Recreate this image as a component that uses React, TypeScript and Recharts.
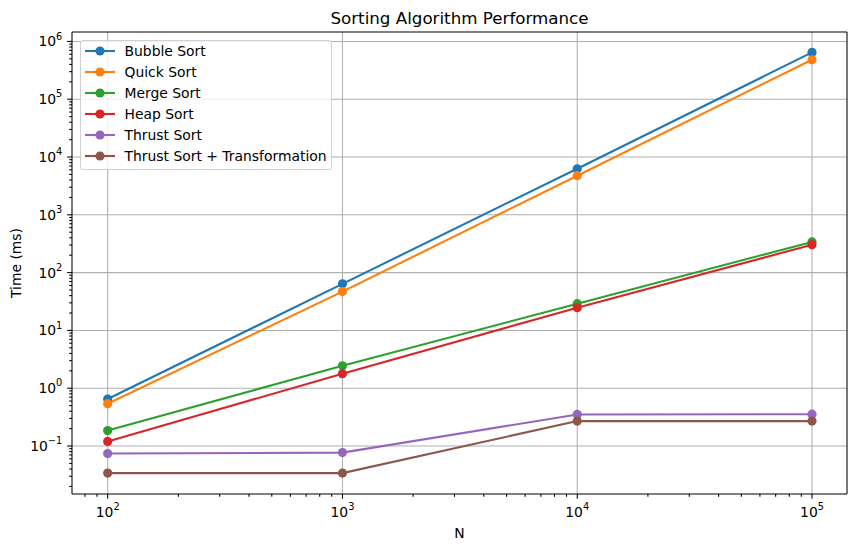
import React from "react";
import { LineChart, Line, XAxis, YAxis, CartesianGrid, ReferenceLine } from "recharts";

// ---- data ----
const nValues = [100, 1000, 10000, 100000];
const bubbleSort = [0.65, 64, 6270, 645000];
const quickSort = [0.54, 47, 4750, 482000];
const mergeSort = [0.185, 2.45, 29, 340];
const heapSort = [0.12, 1.78, 24.7, 304];
const thrustSort = [0.074, 0.077, 0.352, 0.355];
const thrustSortTransform = [0.034, 0.034, 0.27, 0.27];

const seriesNames = [
  "Bubble Sort",
  "Quick Sort",
  "Merge Sort",
  "Heap Sort",
  "Thrust Sort",
  "Thrust Sort + Transformation",
];
const seriesKeys = ["bubble", "quick", "merge", "heap", "thrust", "thrustT"];
const seriesColors = ["#1f77b4", "#ff7f0e", "#2ca02c", "#d62728", "#9467bd", "#8c564b"];
const seriesValues = [bubbleSort, quickSort, mergeSort, heapSort, thrustSort, thrustSortTransform];

const xMajorExps = [2, 3, 4, 5];
const yMajorExps = [-1, 0, 1, 2, 3, 4, 5, 6];

const titleText = "Sorting Algorithm Performance";
const xLabelText = "N";
const yLabelText = "Time (ms)";

// ---- layout ----
const W = 857;
const H = 552;
const LEFT = 72;
const RIGHT = 847;
const TOP = 32;
const BOTTOM = 494;
const FONT = "'DejaVu Sans', sans-serif";
const FS = 13.9;

const X_DOMAIN: [number, number] = [Math.pow(10, 1.848), Math.pow(10, 5.149)];
const Y_DOMAIN: [number, number] = [Math.pow(10, -1.83), Math.pow(10, 6.163)];

const data = nValues.map((n, i) => {
  const row: Record<string, number> = { n };
  seriesKeys.forEach((k, s) => {
    row[k] = seriesValues[s][i];
  });
  return row;
});

function logTicks(domain: [number, number]) {
  const out: number[] = [];
  const lo = Math.floor(Math.log10(domain[0]));
  const hi = Math.ceil(Math.log10(domain[1]));
  for (let k = lo; k <= hi; k++) {
    for (let m = 1; m <= 9; m++) {
      const v = Number(`${m}e${k}`);
      if (v >= domain[0] && v <= domain[1]) out.push(v);
    }
  }
  return out;
}
const xTicks = logTicks(X_DOMAIN);
const yTicks = logTicks(Y_DOMAIN);
const xMajors = xMajorExps.map((e) => Number(`1e${e}`));
const yMajors = yMajorExps.map((e) => Number(`1e${e}`));

function isMajor(v: number) {
  const l = Math.log10(v);
  return Math.abs(l - Math.round(l)) < 1e-9;
}
function expOf(v: number) {
  const e = Math.round(Math.log10(v));
  return e < 0 ? "\u2212" + Math.abs(e) : String(e);
}

const MAJOR_LEN = 4.86;
const MINOR_LEN = 2.78;

const XTick = (props: any) => {
  const { x, payload } = props;
  const v = payload.value;
  const major = isMajor(v);
  return (
    <g>
      <line x1={x} x2={x} y1={BOTTOM} y2={BOTTOM + (major ? MAJOR_LEN : MINOR_LEN)} stroke="#000" strokeWidth={1.07} />
      {major && (
        <text x={x} y={517} textAnchor="middle" fontFamily={FONT} fontSize={FS} fill="#000">
          <tspan>10</tspan>
          <tspan dy={-6.8} fontSize={9.8}>{expOf(v)}</tspan>
        </text>
      )}
    </g>
  );
};

const YTick = (props: any) => {
  const { y, payload } = props;
  const v = payload.value;
  const major = isMajor(v);
  return (
    <g>
      <line x1={LEFT - (major ? MAJOR_LEN : MINOR_LEN)} x2={LEFT} y1={y} y2={y} stroke="#000" strokeWidth={1.07} />
      {major && (
        <text x={62.3} y={y + 5} textAnchor="end" fontFamily={FONT} fontSize={FS} fill="#000">
          <tspan>10</tspan>
          <tspan dy={-6.8} fontSize={9.8}>{expOf(v)}</tspan>
        </text>
      )}
    </g>
  );
};

const Legend = () => (
  <div
    style={{
      position: "absolute",
      left: 80,
      top: 39.5,
      width: 252,
      height: 130,
      boxSizing: "border-box",
      border: "1px solid #d0d0d0",
      borderRadius: 3,
      background: "rgba(255,255,255,0.8)",
      fontFamily: FONT,
      fontSize: FS,
      color: "#000",
    }}
  >
    {seriesNames.map((name, i) => (
      <div key={name} style={{ position: "absolute", left: 0, top: 10.5 + i * 20.9 - 10, height: 20, display: "flex", alignItems: "center" }}>
        <svg width={40} height={20} style={{ display: "block" }}>
          <line x1={4} x2={34} y1={10} y2={10} stroke={seriesColors[i]} strokeWidth={2.08} />
          <circle cx={19} cy={10} r={4.6} fill={seriesColors[i]} />
        </svg>
        <span style={{ marginLeft: 3.5, whiteSpace: "nowrap", lineHeight: "20px" }}>{name}</span>
      </div>
    ))}
  </div>
);

export default function App() {
  return (
    <div style={{ position: "absolute", left: 0, top: 0, width: W, height: H, background: "#fff" }}>
      <LineChart
        width={W}
        height={H}
        data={data}
        margin={{ top: TOP, right: W - RIGHT, bottom: 0, left: 0 }}
      >
        <CartesianGrid
          stroke="#b0b0b0"
          strokeWidth={1.07}
          horizontalValues={yMajors}
          verticalValues={xMajors}
        />
        <XAxis
          dataKey="n"
          type="number"
          scale="log"
          domain={X_DOMAIN}
          allowDataOverflow
          ticks={xTicks}
          interval={0}
          tick={<XTick />}
          tickLine={false}
          axisLine={{ stroke: "#000", strokeWidth: 1.07 }}
          height={H - BOTTOM}
        />
        <YAxis
          type="number"
          scale="log"
          domain={Y_DOMAIN}
          allowDataOverflow
          ticks={yTicks}
          interval={0}
          tick={<YTick />}
          tickLine={false}
          axisLine={{ stroke: "#000", strokeWidth: 1.07 }}
          width={LEFT}
        />
        <ReferenceLine y={Y_DOMAIN[1]} stroke="#000" strokeWidth={1.07} />
        <ReferenceLine x={X_DOMAIN[1]} stroke="#000" strokeWidth={1.07} />
        {seriesKeys.map((k, i) => (
          <Line
            key={k}
            dataKey={k}
            name={seriesNames[i]}
            stroke={seriesColors[i]}
            strokeWidth={2.08}
            dot={{ r: 4.6, fill: seriesColors[i], stroke: "none" }}
            activeDot={false}
            isAnimationActive={false}
          />
        ))}
      </LineChart>
      <svg width={W} height={H} style={{ position: "absolute", left: 0, top: 0, pointerEvents: "none" }}>
        <text x={(LEFT + RIGHT) / 2} y={24} textAnchor="middle" fontFamily={FONT} fontSize={16.7} fill="#000">
          {titleText}
        </text>
        <text x={(LEFT + RIGHT) / 2} y={538} textAnchor="middle" fontFamily={FONT} fontSize={FS} fill="#000">
          {xLabelText}
        </text>
        <text
          x={21}
          y={(TOP + BOTTOM) / 2}
          textAnchor="middle"
          fontFamily={FONT}
          fontSize={FS}
          fill="#000"
          transform={`rotate(-90 21 ${(TOP + BOTTOM) / 2})`}
        >
          {yLabelText}
        </text>
      </svg>
      <Legend />
    </div>
  );
}
